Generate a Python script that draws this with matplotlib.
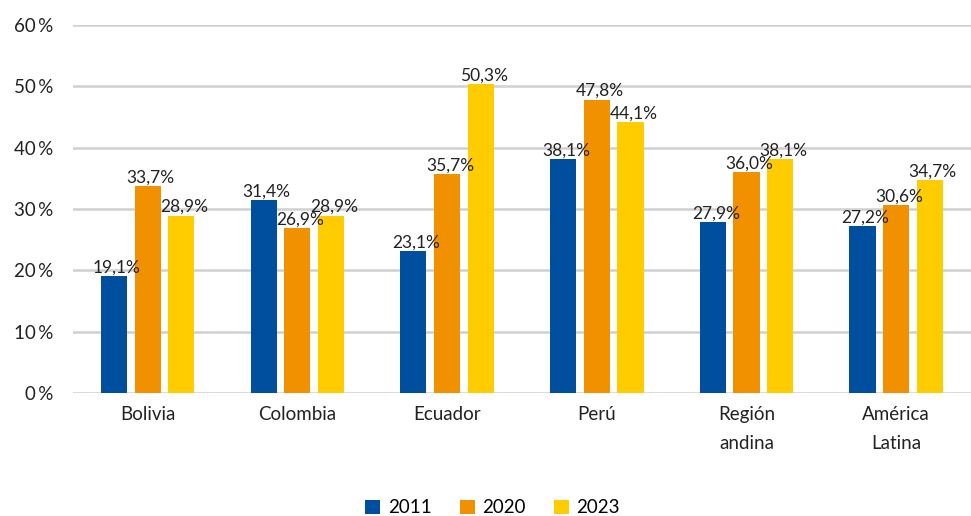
import matplotlib
matplotlib.use("Agg")
import matplotlib.pyplot as plt
import numpy as np

categories = ["Bolivia", "Colombia", "Ecuador", "Perú", "Región\nandina", "América\nLatina"]
series_names = ["2011", "2020", "2023"]
v2011 = [19.1, 31.4, 23.1, 38.1, 27.9, 27.2]
v2020 = [33.7, 26.9, 35.7, 47.8, 36.0, 30.6]
v2023 = [28.9, 28.9, 50.3, 44.1, 38.1, 34.7]
yticks = [0, 10, 20, 30, 40, 50, 60]
colors = ["#004f9e", "#f29100", "#ffcc00"]

plt.rcParams['font.family'] = ['Lato', 'DejaVu Sans']

fig = plt.figure(figsize=(9.71, 5.16), dpi=100)
ax = fig.add_axes([0.075, 0.238, 0.925, 0.714])

x = np.arange(len(categories))
pitch = 0.225
width = 0.175
for i, (vals, name, c) in enumerate(zip([v2011, v2020, v2023], series_names, colors)):
    pos = x + (i - 1) * pitch
    ax.bar(pos, vals, width, color=c, label=name, zorder=3)
    for p, v in zip(pos, vals):
        ax.text(p + 0.02, v + 0.1, f"{v:.1f}%".replace(".", ","), ha="center", va="bottom",
                fontsize=12.5, color="#222222", zorder=4)

ax.set_ylim(0, 60)
ax.set_xlim(-0.5, len(categories) - 0.5)
ax.set_yticks(yticks)
ax.set_yticklabels([f"{t}\u2009%" for t in yticks], fontsize=13.5, color="#222222")
ax.set_xticks(x)
ax.set_xticklabels(categories, fontsize=13.5, color="#222222", linespacing=1.9)
ax.tick_params(axis='x', length=0, pad=9)
ax.tick_params(axis='y', length=0, pad=14)
ax.grid(axis='y', color="#d0d0d0", linewidth=1.8, zorder=0)
for s in ax.spines.values():
    s.set_visible(False)

ax.legend(loc="lower center", bbox_to_anchor=(0.5 - 0.075/2 + 0.005, -0.37), ncol=3, frameon=False,
          fontsize=13.5, handlelength=0.8, handleheight=0.8, columnspacing=1.5, handletextpad=0.4,
          borderpad=0.2)

fig.savefig("out.png", dpi=100)
